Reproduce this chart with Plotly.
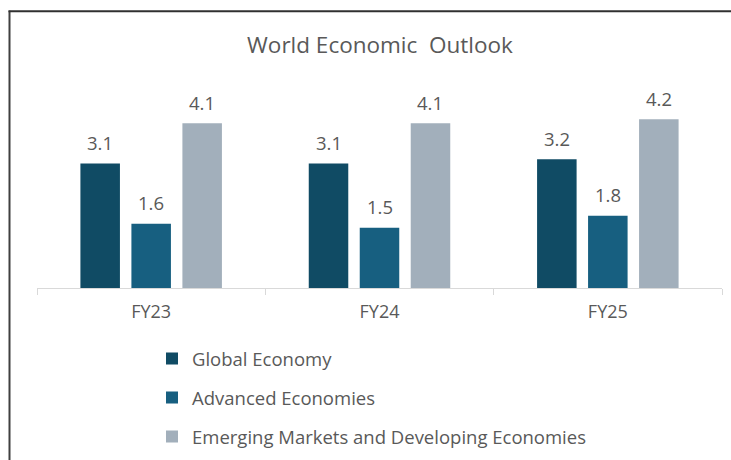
import plotly.graph_objects as go

categories = ["FY23", "FY24", "FY25"]
global_economy = [3.1, 3.1, 3.2]
advanced_economies = [1.6, 1.5, 1.8]
emerging_markets = [4.1, 4.1, 4.2]
series_names = ["Global Economy", "Advanced Economies",
                "Emerging Markets and Developing Economies"]
series_colors = ["#104B64", "#175F80", "#A2AFBB"]

FONT = "Open Sans, Arial, sans-serif"
W, H = 731, 460
L, R = 37, 9
T, B = 86.5, 172
pw, ph = W - L - R, H - T - B
BARGAP, GROUPGAP = 0.33, 0.225

def px_x(p):
    return (p - L) / pw

def px_y(p):
    return (H - B - p) / ph

all_series = [global_economy, advanced_economies, emerging_markets]
fig = go.Figure()
for i, (name, vals, col) in enumerate(zip(series_names, all_series, series_colors)):
    fig.add_trace(go.Bar(
        x=categories, y=vals, name=name, marker_color=col,
        marker_line_width=0, legendgroup=f"g{i}",
    ))

slot = (1 - BARGAP) / len(all_series)
for k, vals in enumerate(all_series):
    off = (k - (len(all_series) - 1) / 2) * slot
    for ci, v in enumerate(vals):
        fig.add_annotation(x=ci + off, y=v, xref="x", yref="y",
                           text=f"{v:.1f}", showarrow=False,
                           yanchor="middle", yshift=21,
                           font=dict(family=FONT, size=18.5, color="#595959"))

fig.update_layout(
    width=W, height=H,
    margin=dict(l=L, r=R, t=T, b=B, autoexpand=False),
    paper_bgcolor="white", plot_bgcolor="white",
    font=dict(family=FONT, color="#595959"),
    title=dict(text="World Economic  Outlook", x=px_x(380), xref="paper",
               xanchor="center", y=1 - 45 / H, yanchor="middle",
               font=dict(family=FONT, size=22.5, color="#595959")),
    barmode="group", bargap=BARGAP, bargroupgap=GROUPGAP,
    showlegend=True,
    legend=dict(orientation="v", x=px_x(152), xanchor="left",
                y=px_y(340), yanchor="top",
                traceorder="grouped", tracegroupgap=12,
                font=dict(family=FONT, size=18.5, color="#595959"),
                itemwidth=30),
    xaxis=dict(type="category", showline=True, linecolor="#D9D9D9", linewidth=1,
               ticks="outside", tickson="boundaries", ticklen=6, tickcolor="#D9D9D9",
               ticklabelstandoff=7,
               tickfont=dict(family=FONT, size=18, color="#595959"), showgrid=False),
    yaxis=dict(range=[0, 5], visible=False, showgrid=False, zeroline=False),
)

fig.add_shape(type="line", xref="paper", yref="paper",
              x0=px_x(9.5), x1=px_x(9.5), y0=px_y(10), y1=px_y(H + 5),
              line=dict(color="#404040", width=2))
fig.add_shape(type="line", xref="paper", yref="paper",
              x0=px_x(8.5), x1=px_x(W + 5), y0=px_y(10.5), y1=px_y(10.5),
              line=dict(color="#303030", width=2))

fig.write_html("out.html", config={"displayModeBar": False},
               post_script="document.body.style.margin='0px';")
